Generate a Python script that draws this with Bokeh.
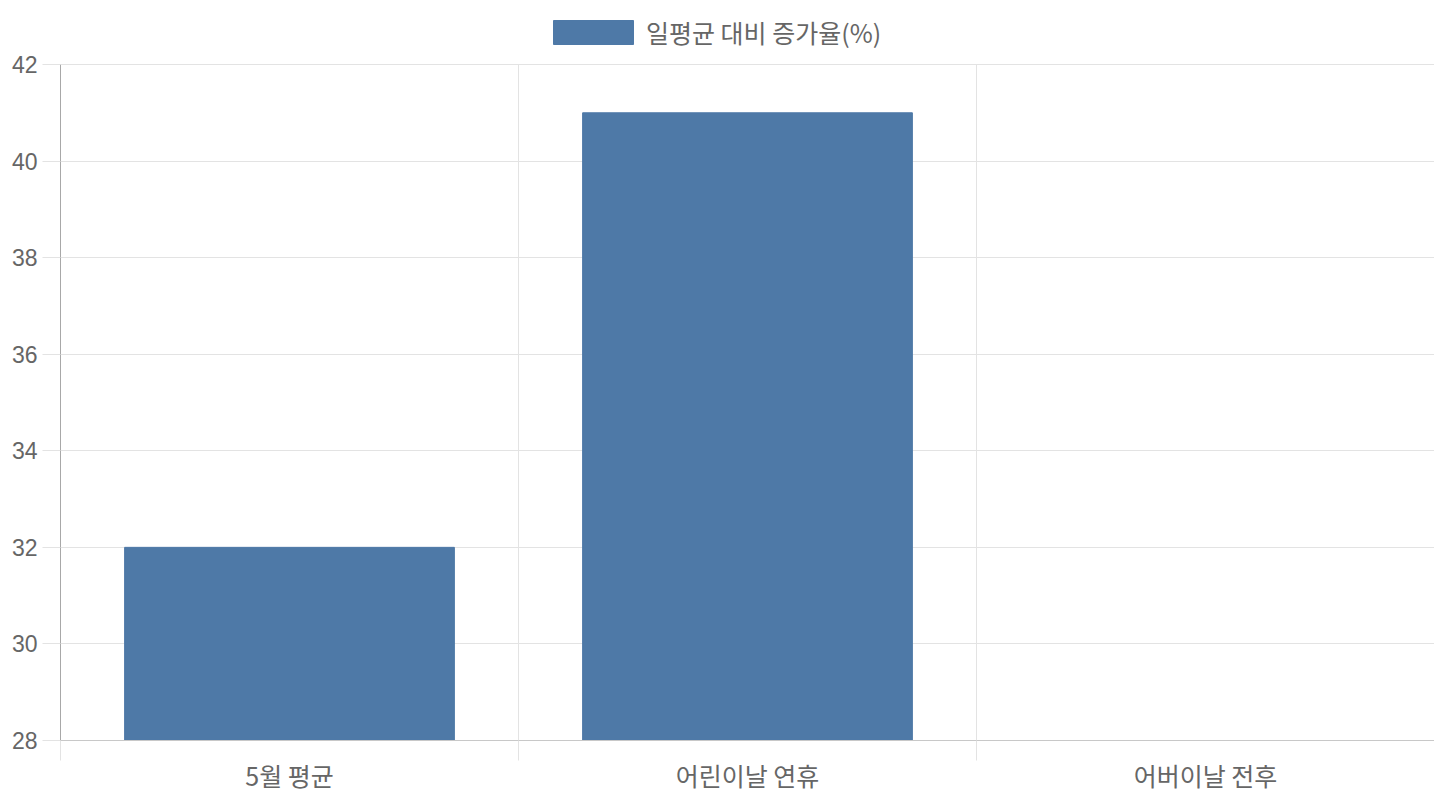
from bokeh.plotting import figure
from bokeh.models import FixedTicker, LinearAxis, Legend, LegendItem, Range1d
from bokeh.embed import file_html
from bokeh.resources import INLINE

# data
categories = ["5월 평균", "어린이날 연휴", "어버이날 전후"]
increase = [32, 41, 28]
y_ticks = [28, 30, 32, 34, 36, 38, 40, 42]

bar_color = "#4e79a7"
grid_color = "#e3e3e3"
text_color = "#666666"
ko_font = "Noto Sans CJK KR"
num_font = "Liberation Sans"

centers = [i + 0.5 for i in range(len(categories))]
bounds = [0, 1, 2, 3]

# frame reaches the top of the page so that the legend can sit above the 42 line
y_top = 28 + 740 / (676 / 14)
p = figure(frame_width=1374, frame_height=740, output_backend="svg", toolbar_location=None,
           x_range=Range1d(0, len(categories)), y_range=Range1d(28, y_top),
           min_border_left=60, min_border_right=0, min_border_bottom=0, min_border_top=0)
p.outline_line_color = None

bars = p.vbar(x=centers, top=increase, bottom=28, width=0.72,
              fill_color=bar_color, line_color=bar_color)

# grid
p.xgrid.ticker = FixedTicker(ticks=bounds)
p.xgrid.cross_bounds = (28, 42)
p.ygrid.ticker = FixedTicker(ticks=y_ticks)
p.xgrid.grid_line_color = grid_color
p.ygrid.grid_line_color = grid_color

# x axis: boundary tick marks
xa = p.xaxis[0]
xa.ticker = FixedTicker(ticks=bounds)
xa.major_label_overrides = {b: "" for b in bounds}
xa.major_label_standoff = 0
xa.major_tick_out = 20
xa.major_tick_in = 0
xa.major_tick_line_color = grid_color
xa.axis_line_color = "#c8c8c8"
xa.minor_tick_line_color = None

# x axis: category labels
xl = LinearAxis(ticker=FixedTicker(ticks=centers),
                major_label_overrides={c: n for c, n in zip(centers, categories)})
xl.axis_line_color = None
xl.major_tick_line_color = None
xl.minor_tick_line_color = None
xl.major_label_standoff = -10
xl.major_label_text_font = ko_font
xl.major_label_text_font_size = "25px"
xl.major_label_text_color = text_color
p.add_layout(xl, "below")

# y axis
ya = p.yaxis[0]
ya.ticker = FixedTicker(ticks=y_ticks)
ya.bounds = (28, 42)
ya.axis_line_color = "#a8a8a8"
ya.major_tick_line_color = grid_color
ya.major_tick_out = 18
ya.major_tick_in = 0
ya.minor_tick_line_color = None
ya.major_label_standoff = 5
ya.major_label_text_font = num_font
ya.major_label_text_font_size = "23px"
ya.major_label_text_color = text_color

legend = Legend(items=[LegendItem(label="일평균 대비 증가율(%)", renderers=[bars])],
                orientation="horizontal", location=(483, 690),
                glyph_width=100, glyph_height=30, padding=0, margin=0, spacing=0,
                label_text_font=ko_font, label_text_font_size="25px",
                label_text_color=text_color, label_standoff=3,
                border_line_color=None, background_fill_alpha=0)
p.add_layout(legend)

open("out.html", "w").write(file_html(p, INLINE))
